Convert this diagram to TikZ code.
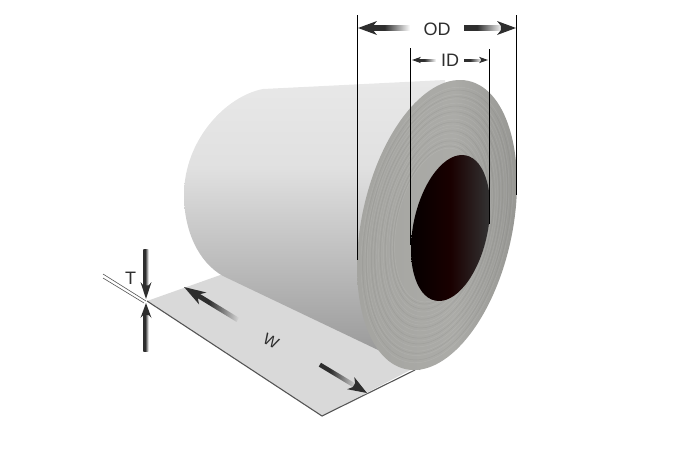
\documentclass[tikz,border=0pt]{standalone}
\usepackage{fontspec}
\setmainfont{Liberation Sans}
\definecolor{arrowdark}{HTML}{2E2E2E}
\definecolor{sheetgray}{HTML}{D9D9D9}
\definecolor{edgegray}{HTML}{555555}
\definecolor{facegray}{HTML}{A4A4A0}
\pgfdeclareverticalshading{bodyshade}{100bp}{
  color(0bp)=(black!42);
  color(25bp)=(black!42);
  color(45bp)=(black!25);
  color(60bp)=(black!12);
  color(75bp)=(black!9);
  color(100bp)=(black!9)}
\pgfdeclarehorizontalshading{faceshade}{100bp}{
  color(0bp)=(facegray);
  color(25bp)=(facegray);
  color(55bp)=(facegray!92!white);
  color(75bp)=(facegray!92!black);
  color(100bp)=(facegray!92!black)}
\pgfdeclarehorizontalshading{holeshade}{100bp}{
  color(0bp)=(black);
  color(25bp)=(black!98!red);
  color(50bp)=(black!90!red);
  color(75bp)=(black!80);
  color(100bp)=(black!80)}
\pgfdeclarehorizontalshading{tailwhite}{100bp}{
  color(0bp)=(arrowdark);
  color(25bp)=(arrowdark);
  color(42bp)=(arrowdark);
  color(75bp)=(white);
  color(100bp)=(white)}
\pgfdeclarehorizontalshading{tailsheet}{100bp}{
  color(0bp)=(arrowdark);
  color(25bp)=(arrowdark);
  color(40bp)=(arrowdark);
  color(75bp)=(sheetgray);
  color(100bp)=(sheetgray)}
% #1 tip, #2 rotation, #3 length, #4 head length, #5 head half width, #6 shaft half width, #7 tail shading
\newcommand{\fadearrow}[7]{%
  \begin{scope}[shift={#1},rotate=#2]
    \path[shading=#7] (#4*0.7,-#6) rectangle (#3,#6);
    \fill[arrowdark] (0,0) -- (#4,#5) -- (#4*0.8,#6) -- (#4*0.8,-#6) -- (#4,-#5) -- cycle;
  \end{scope}}
\tikzset{
  dimline/.style={black,line width=0.75pt},
  thinline/.style={edgegray,line width=0.6pt},
  edgeline/.style={edgegray,line width=1.1pt},
  dimtext/.style={font=\fontsize{18}{20}\selectfont,text=arrowdark,inner sep=0pt},
  ring/.style={line width=0.5pt,white,opacity=0.09},
  darkring/.style={line width=0.5pt,black,opacity=0.05}
}
\begin{document}
\begin{tikzpicture}[x=1pt,y=-1pt]
\useasboundingbox (0,0) rectangle (700,450);
% flat sheet
\fill[sheetgray] (147,301) -- (226,273) -- (420,365) -- (322,416) -- cycle;
\draw[edgeline] (147,301) -- (322,416) -- (415,370);
% coil body
\path[shading=bodyshade]
  (445,80) -- (263,89)
  .. controls (226,96) and (184,140) .. (184,195)
  .. controls (184,230) and (198,262) .. (223,276)
  -- (420,370) -- (460,250) -- cycle;
% end face
\begin{scope}
  \clip[shift={(437,225)},rotate=77.74] (0,0) ellipse [x radius=147.5pt,y radius=75.3pt];
  \path[shading=faceshade] (357,80) rectangle (517,370);
  \begin{scope}[shift={(437,225)},rotate=77.74]
    \foreach \r in {0.53,0.56,0.6,0.63,0.67,0.69,0.73,0.76,0.8,0.84,0.87,0.9,0.95}
      \draw[ring] (0,0) ellipse [x radius=\r*147.5pt,y radius=\r*75.3pt];
    \foreach \r in {0.545,0.58,0.65,0.71,0.78,0.82,0.885,0.93}
      \draw[darkring] (0,0) ellipse [x radius=\r*147.5pt,y radius=\r*75.3pt];
  \end{scope}
\end{scope}
% bore
\begin{scope}
  \clip[shift={(450.5,228)},rotate=78] (0,0) ellipse [x radius=74.2pt,y radius=37.2pt];
  \path[shading=holeshade] (411,155) rectangle (490,301);
\end{scope}
% dimension lines
\coordinate (odlt) at (357.5,15);
\coordinate (odlb) at (357.5,260);
\coordinate (odrt) at (516.5,15);
\coordinate (odrb) at (516.5,195);
\coordinate (idlt) at (410.5,48);
\coordinate (idlb) at (410.5,245);
\coordinate (idrt) at (489.5,49);
\coordinate (idrb) at (489.5,224);
\draw[dimline] (odlt) -- (odlb);
\draw[dimline] (odrt) -- (odrb);
\draw[dimline] (idlt) -- (idlb);
\draw[dimline] (idrt) -- (idrb);
% thickness lines
\coordinate (ta) at (103,274);
\coordinate (tb) at (146,301);
\coordinate (tc) at (103,278);
\coordinate (td) at (144,303);
\draw[thinline] (ta) -- (tb);
\draw[thinline] (tc) -- (td);
% arrows
\fadearrow{(358,28)}{0}{52}{19}{7}{2.3}{tailwhite}
\fadearrow{(516,28)}{180}{52}{19}{7}{2.3}{tailwhite}
\fadearrow{(412,60)}{0}{24}{9}{3.2}{1}{tailwhite}
\fadearrow{(488,60)}{180}{24}{9}{3.2}{1}{tailwhite}
\fadearrow{(146,299)}{90}{50}{17}{5.5}{2.6}{tailwhite}
\fadearrow{(146,303)}{-90}{48}{15}{5.5}{2.6}{tailwhite}
\fadearrow{(184,287)}{-31.4}{63}{22}{7}{2.4}{tailsheet}
\fadearrow{(367,393)}{149}{55}{19}{7}{2.2}{tailsheet}
% labels
\node[dimtext] (od) at (437,29) {OD};
\node[dimtext] (id) at (450,60.5) {ID};
\node[dimtext] (t) at (130.5,278) {T};
\node[dimtext,font=\fontsize{16}{18}\selectfont,rotate=-28] (w) at (271,341) {W};
\end{tikzpicture}
\end{document}
